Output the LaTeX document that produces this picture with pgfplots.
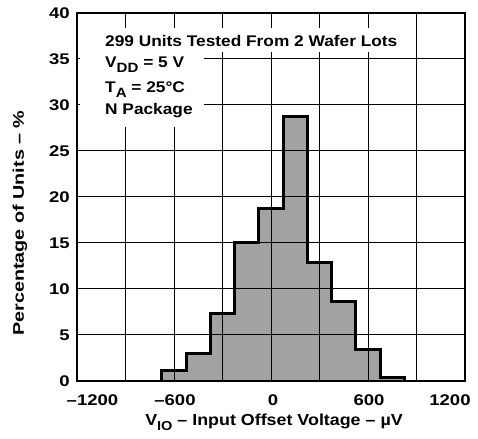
\documentclass[border=0pt]{standalone}
\usepackage{pgfplots}
\pgfplotsset{compat=1.18}
\usepackage{fontspec}
\setmainfont{Liberation Sans}
\newfontfamily\tickfont[FakeStretch=1.2]{Liberation Sans}
\newfontfamily\labfont[FakeStretch=1.12]{Liberation Sans}
\newfontfamily\ylabfont[FakeStretch=1.28]{Liberation Sans}
\definecolor{fillgray}{RGB}{162,162,162}
\newcommand{\sh}[2]{\makebox[0pt]{\hspace{#1}#2}}
\begin{document}
\begin{tikzpicture}
\useasboundingbox (-77bp,-58bp) rectangle (401bp,381bp);
\begin{axis}[at={(0bp,0bp)}, anchor=south west, scale only axis,
  width=388bp, height=368bp,
  xmin=-1200, xmax=1200, ymin=0, ymax=40,
  xtick={-1200,-900,...,1200},
  xticklabels={\sh{31bp}{–1200},,\sh{2bp}{–600},,\sh{4bp}{0},,\sh{2bp}{600},,\sh{-30bp}{1200}},
  ytick={0,5,...,40},
  yticklabels={0,5,10,15,20,25,30,35,40},
  grid=major,
  major grid style={black, line width=1bp},
  major tick length=0pt,
  axis line style={black, line width=2bp},
  axis on top,
  ticklabel style={font=\tickfont\bfseries\fontsize{15.5}{17}\selectfont, inner sep=0pt},
  xticklabel style={anchor=base, yshift=-24bp},
  yticklabel style={anchor=east, xshift=-7bp},
]
\addplot[const plot, fill=fillgray, draw=none] coordinates {
  (-675,0) (-675,1.1) (-525,3.0) (-375,7.3) (-225,15.0) (-75,18.7)
  (75,28.7) (225,12.9) (375,8.6) (525,3.4) (675,0.4) (825,0.4) (825,0)
} \closedcycle;
\addplot[const plot, draw=black, line width=3bp] coordinates {
  (-675,0) (-675,1.1) (-525,3.0) (-375,7.3) (-225,15.0) (-75,18.7)
  (75,28.7) (225,12.9) (375,8.6) (525,3.4) (675,0.4) (825,0.4) (825,0)
};
\end{axis}
\fill[white] (25bp,329bp) rectangle (330bp,353bp);
\fill[white] (3bp,254bp) rectangle (127bp,329bp);
\begin{scope}[every node/.style={anchor=base west, inner sep=0pt, font=\labfont\bfseries\fontsize{15.5}{17}\selectfont}]
\node at (28bp,334bp) {299 Units Tested From 2 Wafer Lots};
\node at (28bp,313bp) {V\raisebox{-5bp}{\fontsize{13.5}{13}\selectfont DD} = 5 V};
\node at (28bp,288bp) {T\raisebox{-5bp}{\fontsize{13.5}{13}\selectfont A} = 25°C};
\node at (28bp,266bp) {N Package};
\end{scope}
\node[anchor=base, inner sep=0pt, font=\labfont\bfseries\fontsize{16}{18}\selectfont] at (197bp,-44bp)
  {V\raisebox{-5bp}{\fontsize{13}{13}\selectfont IO} – Input Offset Voltage – µV};
\node[rotate=90, anchor=center, inner sep=0pt, font=\ylabfont\bfseries\fontsize{15.5}{17}\selectfont] at (-57bp,158bp)
  {Percentage of Units – \%};
\end{tikzpicture}
\end{document}
